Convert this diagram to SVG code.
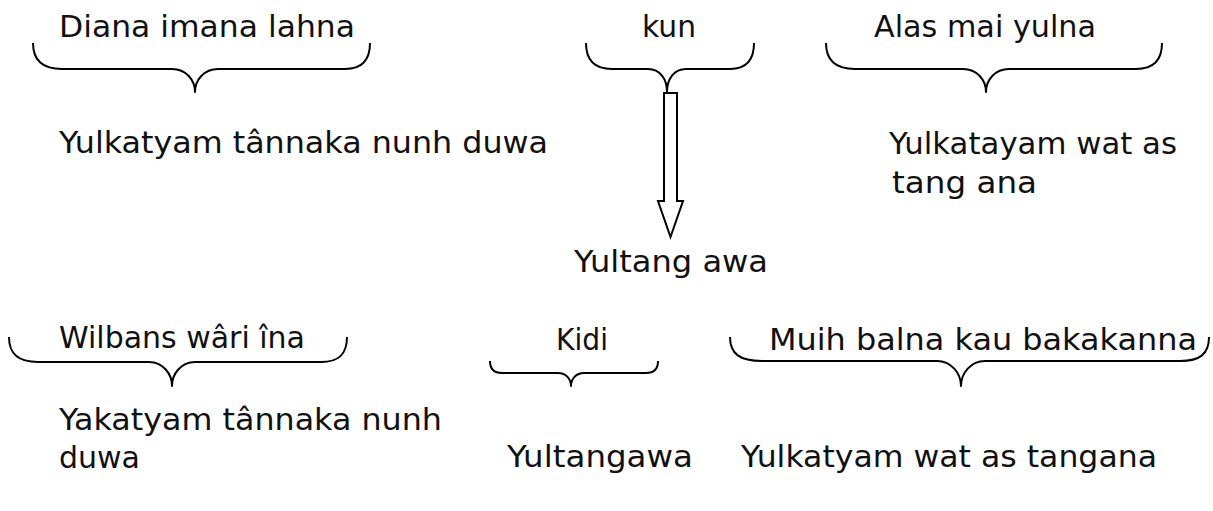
<svg xmlns="http://www.w3.org/2000/svg" width="1213" height="511" viewBox="0 0 1213 511">
<style>
text { font-family: "DejaVu Sans", "Liberation Sans", sans-serif; font-size: 30px; fill: #111; }
.brace { fill: none; stroke: #000; stroke-width: 2; stroke-linejoin: round; }
.arrow { fill: #fff; stroke: #000; stroke-width: 2; stroke-linejoin: miter; }
</style>
<rect width="1213" height="511" fill="#fff"/>
<g id="node-diana">
  <text x="59" y="37" textLength="296" lengthAdjust="spacingAndGlyphs">Diana imana lahna</text>
  <path class="brace" d="M33,43 C33,60 42,69 62,69 L172,69 C186,69 195,80 195,92 C195,80 204,69 218,69 L345,69 C362,69 370,60 370,43"/>
</g>
<g id="node-kun">
  <text x="642" y="37" textLength="54" lengthAdjust="spacingAndGlyphs">kun</text>
  <path class="brace" d="M586,43 C586,60 594,69 612,69 L648,69 C660,69 667,79 667,92 C667,79 674,69 686,69 L730,69 C746,69 754,60 754,43"/>
</g>
<g id="node-alas">
  <text x="874" y="37" textLength="222" lengthAdjust="spacingAndGlyphs">Alas mai yulna</text>
  <path class="brace" d="M826,43 C826,60 835,69 855,69 L963,69 C977,69 986,80 986,92 C986,80 995,69 1009,69 L1136,69 C1154,69 1162,60 1162,43"/>
</g>
<g id="node-yulkatyam-top">
  <text x="59" y="153" textLength="489" lengthAdjust="spacingAndGlyphs">Yulkatyam tânnaka nunh duwa</text>
</g>
<g id="node-yulkatayam-right">
  <text x="889" y="154" textLength="288" lengthAdjust="spacingAndGlyphs">Yulkatayam wat as</text>
  <text x="892" y="193" textLength="145" lengthAdjust="spacingAndGlyphs">tang ana</text>
</g>
<g id="node-yultang-awa">
  <text x="574" y="272" textLength="194" lengthAdjust="spacingAndGlyphs">Yultang awa</text>
</g>
<g id="node-wilbans">
  <text x="59" y="348" textLength="246" lengthAdjust="spacingAndGlyphs">Wilbans wâri îna</text>
  <path class="brace" d="M9,337 C9,354 18,362 38,362 L149,362 C163,362 172,374 172,386 C172,374 181,362 195,362 L321,362 C339,362 347,354 347,337"/>
</g>
<g id="node-kidi">
  <text x="556" y="350" textLength="52" lengthAdjust="spacingAndGlyphs">Kidi</text>
  <path class="brace" d="M490,361 C490,369 494,373 502,373 L558,373 C566,373 571,379 571,386 C571,379 576,373 584,373 L646,373 C654,373 658,369 658,361"/>
</g>
<g id="node-muih">
  <text x="769" y="350" textLength="428" lengthAdjust="spacingAndGlyphs">Muih balna kau bakakanna</text>
  <path class="brace" d="M730,337 C730,354 740,361 762,361 L937,361 C951,361 961,373 961,386 C961,373 971,361 985,361 L1180,361 C1200,361 1209,354 1209,337"/>
</g>
<g id="node-yakatyam">
  <text x="59" y="430" textLength="383" lengthAdjust="spacingAndGlyphs">Yakatyam tânnaka nunh</text>
  <text x="59" y="468">duwa</text>
</g>
<g id="node-yultangawa">
  <text x="507" y="467" textLength="186" lengthAdjust="spacingAndGlyphs">Yultangawa</text>
</g>
<g id="node-yulkatyam-bottom">
  <text x="741" y="467" textLength="416" lengthAdjust="spacingAndGlyphs">Yulkatyam wat as tangana</text>
</g>
<g id="connectors">
  <polygon class="arrow" points="664,93 677,93 677,201 683,201 670.5,237 658,201 664,201"/>
</g>
</svg>
